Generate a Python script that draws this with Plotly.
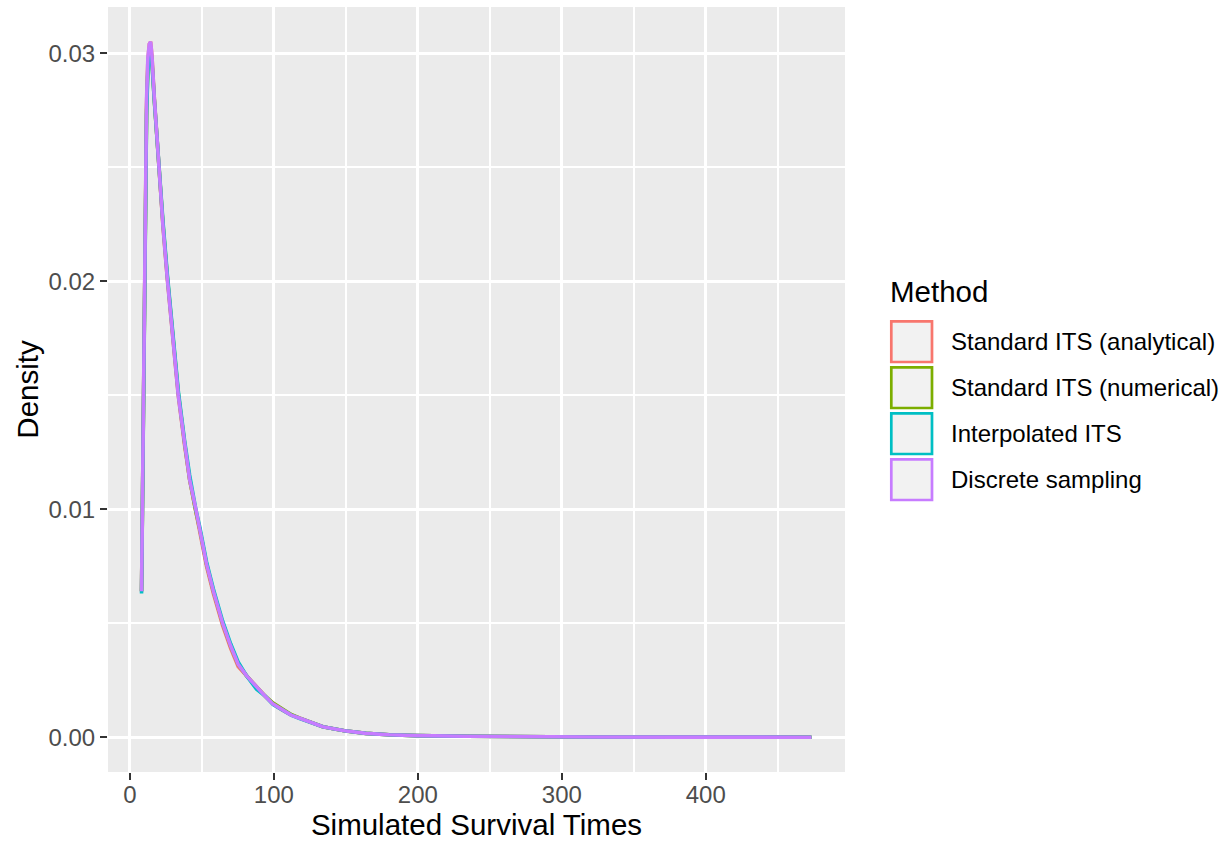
import plotly.graph_objects as go

# ---- data ----
methods = ["Standard ITS (analytical)", "Standard ITS (numerical)", "Interpolated ITS", "Discrete sampling"]
colors = ["#F8766D", "#7CAE00", "#00BFC4", "#C77CFF"]

times = [8.1, 8.8, 9.5, 10.2, 10.9, 11.6, 12.5, 13.5, 14.4, 15.3, 16.9, 18.5, 20.4, 23, 26, 29.5,
         33.6, 38, 41.5, 45.8, 48.6, 53.2, 58, 64.4, 70, 75.2, 81, 88, 94, 99.5, 106, 112, 118,
         125, 134, 149, 164, 180, 199, 234, 270, 320, 380, 430, 473.4]

dens_analytical = [0.0064, 0.0104, 0.0152, 0.0196, 0.0245, 0.0278, 0.0297, 0.0304, 0.0305, 0.0299,
                   0.0281, 0.0265, 0.0249, 0.0224, 0.0201, 0.0176, 0.0150, 0.0128, 0.0113, 0.0099,
                   0.0090, 0.0075, 0.0063, 0.0049, 0.0039, 0.0031, 0.0027, 0.0022, 0.0018, 0.00145,
                   0.00118, 0.00098, 0.00083, 0.00066, 0.00046, 0.00028, 0.00017, 0.00011, 0.00007,
                   0.00004, 0.00002, 0.00001, 0.000005, 0.000002, 0.000001]
dens_numerical = [0.0064, 0.0103, 0.0150, 0.0194, 0.0242, 0.0275, 0.0294, 0.0301, 0.0302, 0.0297,
                  0.0280, 0.0265, 0.0249, 0.0225, 0.0202, 0.0177, 0.0151, 0.0129, 0.0113, 0.0099,
                  0.0091, 0.0076, 0.0064, 0.0050, 0.0040, 0.0032, 0.0027, 0.0022, 0.0018, 0.00150,
                  0.00122, 0.00100, 0.00084, 0.00066, 0.00046, 0.00028, 0.00017, 0.00011, 0.00007,
                  0.00004, 0.00002, 0.00001, 0.000005, 0.000002, 0.000001]
dens_interpolated = [0.0063, 0.0102, 0.0149, 0.0193, 0.0240, 0.0273, 0.0292, 0.0299, 0.0300, 0.0296,
                     0.0280, 0.0265, 0.0250, 0.0226, 0.0203, 0.0178, 0.0152, 0.0130, 0.0115, 0.0100,
                     0.0092, 0.0077, 0.0065, 0.0051, 0.0041, 0.0033, 0.0027, 0.0021, 0.0018, 0.00143,
                     0.00117, 0.00097, 0.00082, 0.00065, 0.00046, 0.00028, 0.00017, 0.00011, 0.00007,
                     0.00004, 0.00002, 0.00001, 0.000005, 0.000002, 0.000001]
dens_discrete = [0.0064, 0.0104, 0.0152, 0.0196, 0.0246, 0.0280, 0.0298, 0.0304, 0.0305, 0.0299,
                 0.0281, 0.0265, 0.0249, 0.0224, 0.0201, 0.0176, 0.0150, 0.0129, 0.0113, 0.0100,
                 0.0091, 0.0076, 0.0064, 0.0050, 0.0040, 0.0032, 0.0027, 0.0022, 0.0018, 0.00145,
                 0.00118, 0.00097, 0.00083, 0.00066, 0.00046, 0.00028, 0.00017, 0.00011, 0.00007,
                 0.00004, 0.00002, 0.00001, 0.000005, 0.000002, 0.000001]
series = [dens_analytical, dens_numerical, dens_interpolated, dens_discrete]

x_ticks = [0, 100, 200, 300, 400]
y_ticks = [0.00, 0.01, 0.02, 0.03]
y_ticktext = ["0.00", "0.01", "0.02", "0.03"]

# ---- layout constants (pixels) ----
W, H = 1222, 841
PL, PR, PT, PB = 108, 845, 7, 772
pw, ph = PR - PL, PB - PT
FONT = "Liberation Sans, Arial, Helvetica, sans-serif"
TICK_SIZE = 24
TITLE_SIZE = 29.5

def px2x(px):
    return (px - PL) / pw

def py2y(py):
    return (PB - py) / ph

fig = go.Figure()
for name, col, ys in zip(methods, colors, series):
    fig.add_trace(go.Scatter(x=times, y=ys, mode="lines", name=name,
                             line=dict(color=col, width=3.6), showlegend=False))

fig.update_layout(
    width=W, height=H,
    margin=dict(l=PL, r=W - PR, t=PT, b=H - PB, pad=0, autoexpand=False),
    paper_bgcolor="white", plot_bgcolor="#EBEBEB",
    font=dict(family=FONT, color="black"),
    showlegend=False,
)
fig.update_xaxes(
    range=[-15.2, 496.7], tickvals=x_ticks, ticktext=[str(v) for v in x_ticks],
    automargin=False,
    showgrid=True, gridcolor="white", gridwidth=3,
    minor=dict(tickvals=[50, 150, 250, 350, 450], showgrid=True, gridcolor="white", gridwidth=1.5, ticks=""),
    zeroline=False, showline=False,
    ticks="outside", ticklen=7, tickwidth=2, tickcolor="#333333",
    ticklabelstandoff=-6,
    tickfont=dict(size=TICK_SIZE, color="#4D4D4D", family=FONT),
    title=dict(text="Simulated Survival Times", font=dict(size=TITLE_SIZE, color="black", family=FONT), standoff=2),
)
fig.update_yaxes(
    range=[-0.001525, 0.032025], tickvals=y_ticks, ticktext=y_ticktext,
    automargin=False,
    showgrid=True, gridcolor="white", gridwidth=3,
    minor=dict(tickvals=[0.005, 0.015, 0.025], showgrid=True, gridcolor="white", gridwidth=1.5, ticks=""),
    zeroline=False, showline=False,
    ticks="outside", ticklen=7, tickwidth=2, tickcolor="#333333",
    tickfont=dict(size=TICK_SIZE, color="#4D4D4D", family=FONT),
    title=dict(text="Density", font=dict(size=TITLE_SIZE, color="black", family=FONT), standoff=1),
)

# ---- manual ggplot-style legend ----
shapes = []
annotations = [dict(x=px2x(888), y=py2y(291), xref="paper", yref="paper", text="Method",
                    showarrow=False, xanchor="left", yanchor="middle",
                    font=dict(size=TITLE_SIZE, color="black", family=FONT))]
key_top, key_pitch = 320, 46
for i, (name, col) in enumerate(zip(methods, colors)):
    top = key_top + i * key_pitch
    shapes.append(dict(type="rect", xref="paper", yref="paper",
                       x0=px2x(891.3), x1=px2x(932), y0=py2y(top + 1.3), y1=py2y(top + 42),
                       line=dict(color=col, width=2.7), fillcolor="#F2F2F2", layer="above"))
    annotations.append(dict(x=px2x(949), y=py2y(top + 21.5), xref="paper", yref="paper", text=name,
                            showarrow=False, xanchor="left", yanchor="middle",
                            font=dict(size=TICK_SIZE, color="black", family=FONT)))
fig.update_layout(shapes=shapes, annotations=annotations)

fig.write_html("out.html")
